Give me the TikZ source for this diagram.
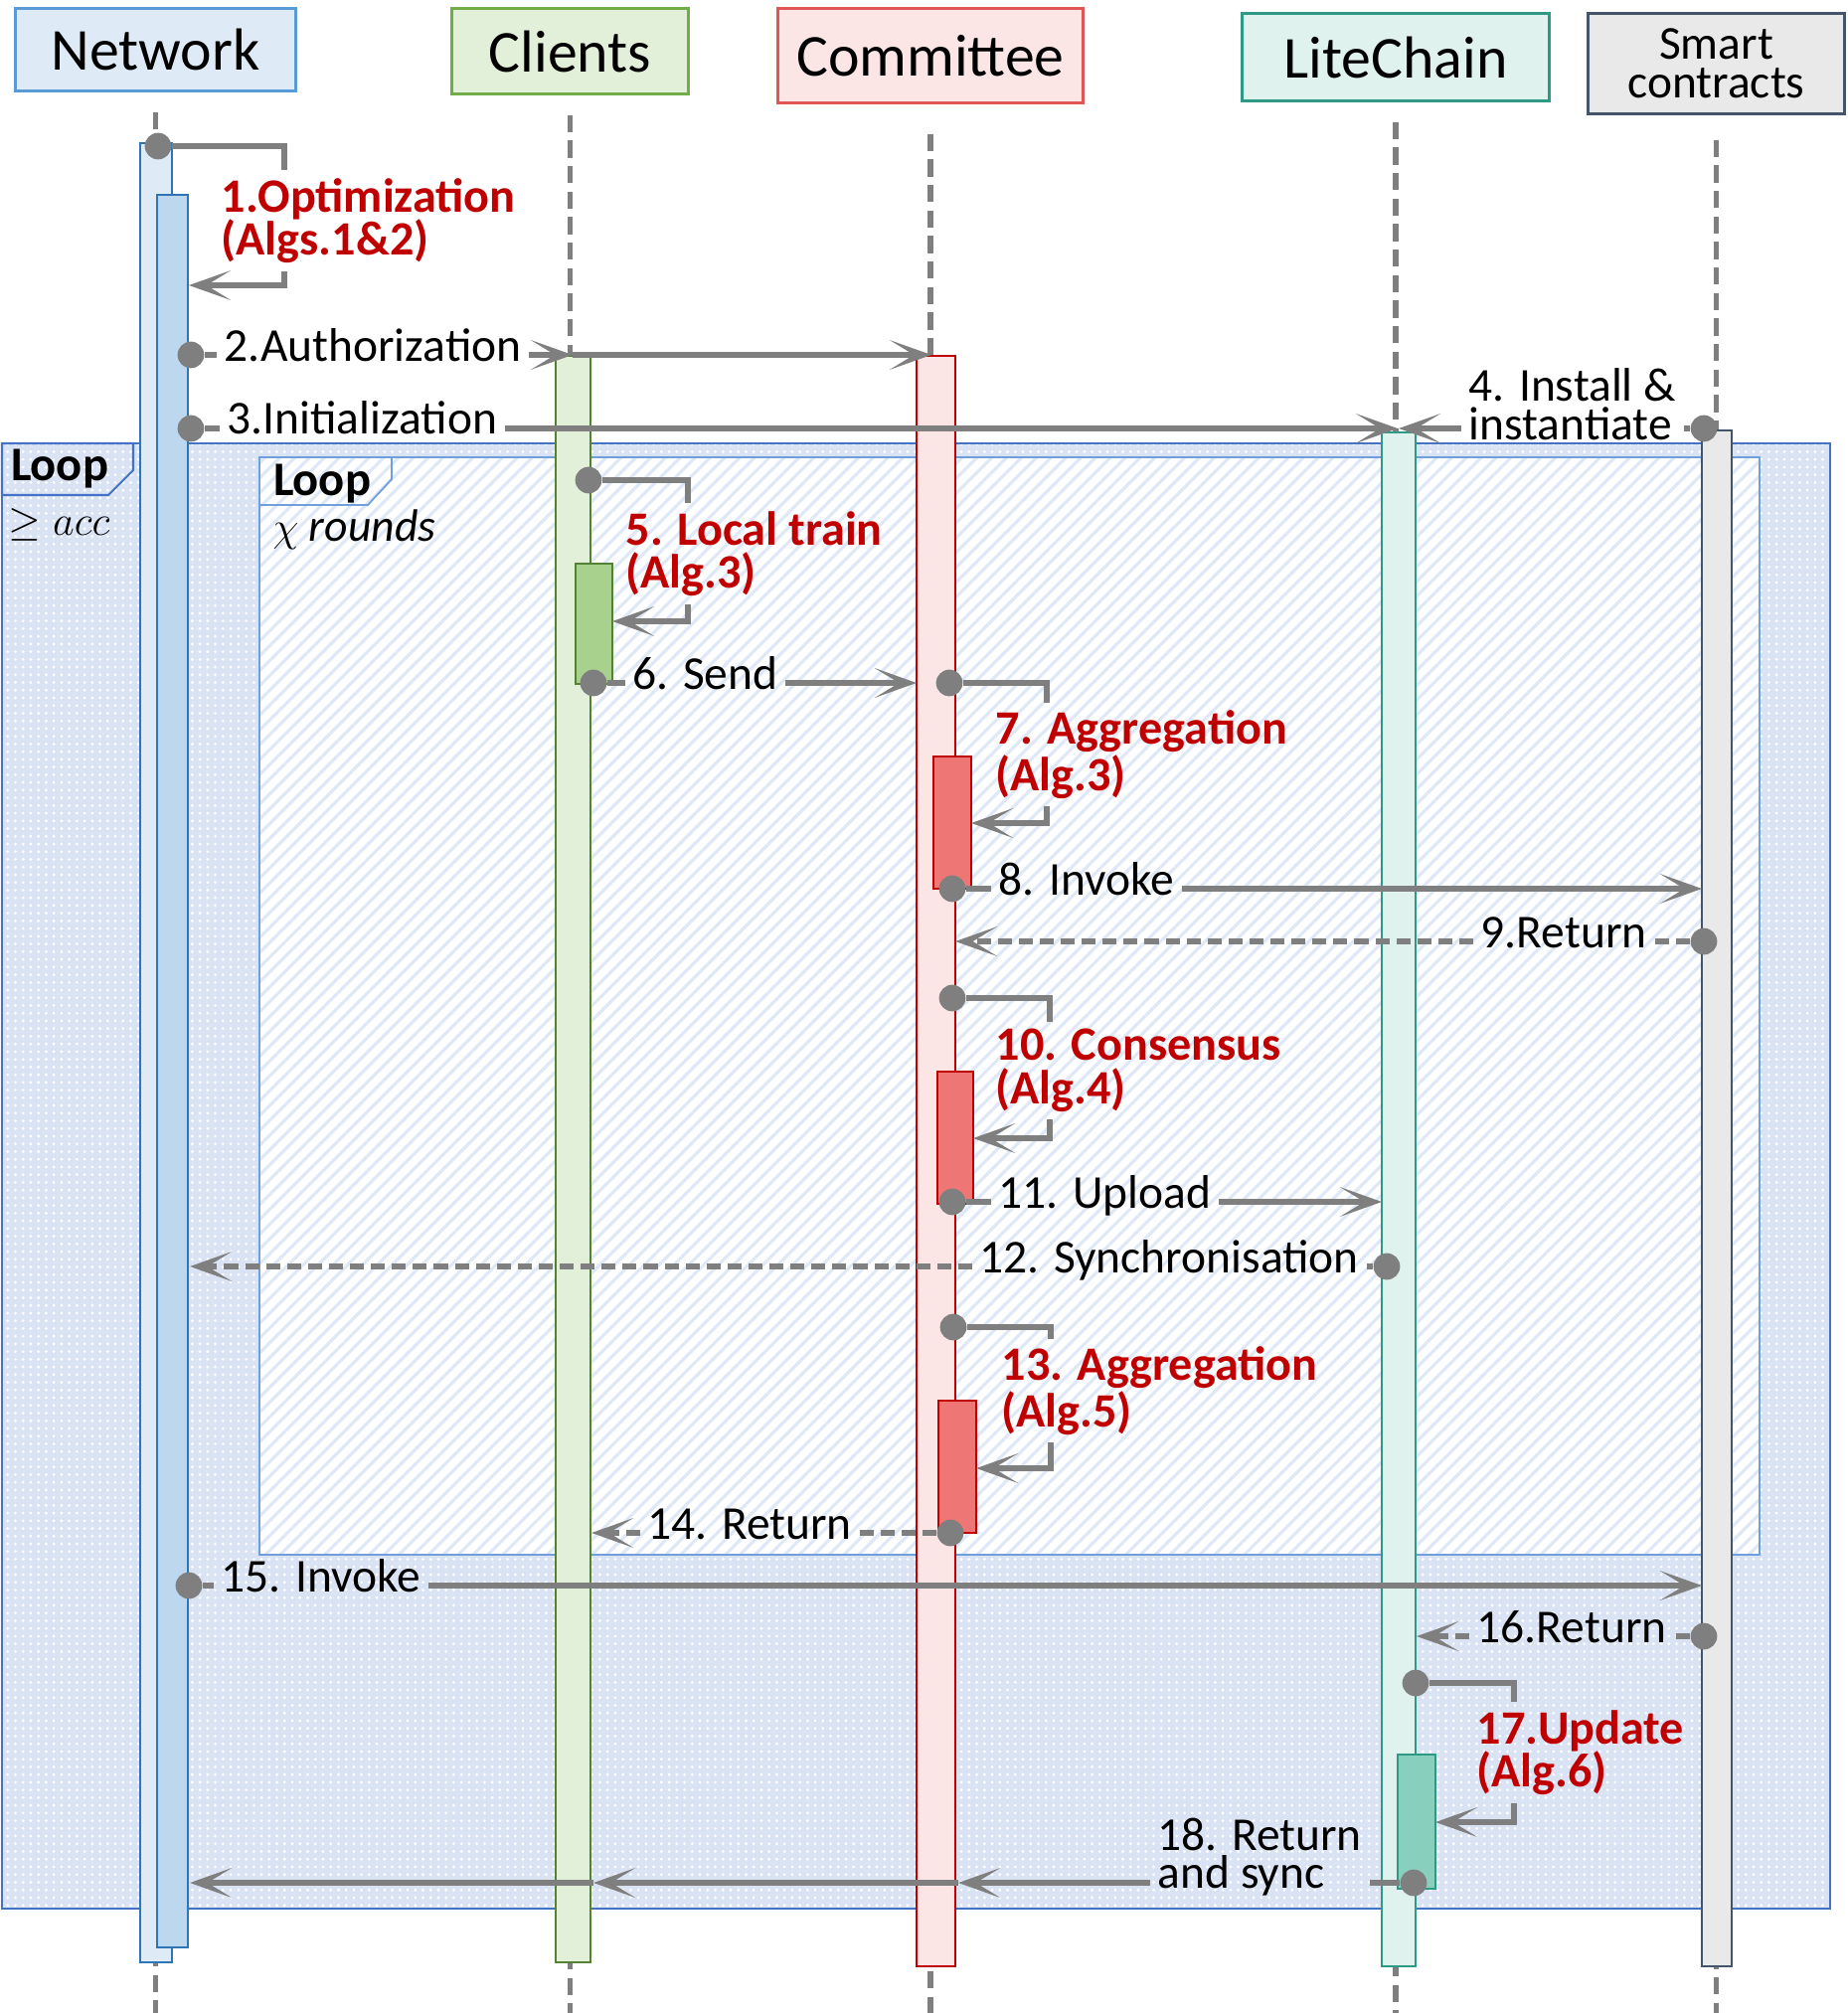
\documentclass[tikz,border=0pt]{standalone}
\usepackage{fontspec}
\setmainfont{Carlito}
\usetikzlibrary{arrows.meta}
\usetikzlibrary{patterns.meta}

\definecolor{netfill}{HTML}{DEEBF7}
\definecolor{netdraw}{HTML}{5B9BD5}
\definecolor{netbar}{HTML}{BDD7EE}
\definecolor{netbardraw}{HTML}{2E75B6}
\definecolor{clifill}{HTML}{E2F0D9}
\definecolor{clidraw}{HTML}{70AD47}
\definecolor{clibardraw}{HTML}{548235}
\definecolor{cliact}{HTML}{A9D18E}
\definecolor{comfill}{HTML}{FBE5E5}
\definecolor{comdraw}{HTML}{E05555}
\definecolor{combardraw}{HTML}{C00000}
\definecolor{comact}{HTML}{EE7674}
\definecolor{litfill}{HTML}{DFF2EE}
\definecolor{litdraw}{HTML}{2E9A85}
\definecolor{litact}{HTML}{88CFBE}
\definecolor{smfill}{HTML}{E9E9E9}
\definecolor{smdraw}{HTML}{44546A}
\definecolor{msggray}{HTML}{7F7F7F}
\definecolor{algred}{HTML}{C00000}
\definecolor{loopbg}{HTML}{DAE3F4}
\definecolor{loopdraw}{HTML}{4472C4}
\definecolor{innerdraw}{HTML}{6FA0DC}
\definecolor{hatch}{HTML}{DFE8F6}

\tikzset{
  hdrbox/.style={draw, line width=0.85pt, inner sep=0pt, align=center,
    font=\fontsize{17}{17}\selectfont},
  lifeline/.style={draw=msggray, line width=1.5pt, dash pattern=on 5pt off 2.3pt},
  actbar/.style={line width=0.75pt},
  msgline/.style={draw=msggray, line width=1.6pt},
  retline/.style={msgline, dash pattern=on 4pt off 2pt},
  msgtip/.style={-{Stealth[length=12pt,width=8.5pt,inset=7pt]}},
  msgdot/.style={circle, fill=msggray, inner sep=0pt, minimum size=7.6pt},
  msgtxt/.style={anchor=base west, inner xsep=2pt, font=\fontsize{13.5}{13.5}\selectfont},
  alglbl/.style={anchor=west, align=left, inner sep=2pt, text=algred,
    font=\bfseries\fontsize{13.7}{12.4}\selectfont},
  outerloop/.style={preaction={fill=loopbg}, pattern={Dots[distance=2.2pt,radius=0.45pt]},
    pattern color=white, draw=loopdraw, line width=0.6pt},
  innerloop/.style={preaction={fill=white}, pattern={Lines[angle=45,distance=3pt,line width=0.9pt]},
    pattern color=hatch, draw=innerdraw, line width=0.5pt},
  loopname/.style={font=\bfseries\fontsize{13.8}{13.8}\selectfont, inner sep=0pt},
  loopcond/.style={anchor=west, font=\fontsize{13}{13}\selectfont, inner sep=0pt}
}

\begin{document}
\begin{tikzpicture}[x=0.01cm,y=-0.01cm]
    \useasboundingbox (0,0) rectangle (1858,2025);
    \coordinate (bot) at (0,2025);
    %% loops
    \draw[outerloop] (2,446) rectangle (1841,1920);
    \draw[outerloop] (2,446) -- (134,446) -- (134,473) -- (109,498) -- (2,498) -- cycle;
    \node[loopname] (outername) at (60,472) {Loop};
    \node[loopcond] (outercond) at (8,528) {$\geq acc$};
    \draw[innerloop] (261,460) rectangle (1770,1564);
    \draw[innerloop] (261,460) -- (394,460) -- (394,482) -- (370,508) -- (261,508) -- cycle;
    \node[loopname] (innername) at (324,487) {Loop};
    \node[loopcond] (innercond) at (274,533) {$\chi$ \textit{rounds}};
    %% headers and lifelines
    \node[hdrbox, draw=netdraw, fill=netfill, minimum width=2.81cm, minimum height=0.82cm] (network) at (156.5,50) {Network};
    \node[hdrbox, draw=clidraw, fill=clifill, minimum width=2.37cm, minimum height=0.85cm] (clients) at (573.5,51.5) {Clients};
    \node[hdrbox, draw=comdraw, fill=comfill, minimum width=3.06cm, minimum height=0.94cm] (committee) at (936,56) {Committee};
    \node[hdrbox, draw=litdraw, fill=litfill, minimum width=3.08cm, minimum height=0.87cm] (litechain) at (1404,57.5) {LiteChain};
    \node[hdrbox, draw=smdraw, fill=smfill, minimum width=2.57cm, minimum height=1.00cm,
      font=\fontsize{13.5}{11}\selectfont] (smart) at (1726.5,64) {Smart\\contracts};
    \draw[lifeline] ([yshift=-2mm]network.south) -- (network.south |- bot);
    \draw[lifeline] ([yshift=-2mm]clients.south) -- (clients.south |- bot);
    \draw[lifeline] ([yshift=-3mm]committee.south) -- (committee.south |- bot);
    \draw[lifeline] ([yshift=-2mm]litechain.south) -- (litechain.south |- bot);
    \draw[lifeline] ([yshift=-2.5mm]smart.south) -- (smart.south |- bot);
    %% activation bars
    \filldraw[actbar, fill=netfill, draw=netbardraw] (141,144) rectangle (173,1974);
    \filldraw[actbar, fill=netbar, draw=netbardraw] (158,196) rectangle (189,1959);
    \filldraw[actbar, fill=clifill, draw=clibardraw] (559,358) rectangle (594,1974);
    \filldraw[actbar, fill=cliact, draw=clibardraw] (579,567) rectangle (616,688);
    \filldraw[actbar, fill=comfill, draw=combardraw] (922,358) rectangle (961,1978);
    \filldraw[actbar, fill=comact, draw=combardraw] (939,761) rectangle (977,894);
    \filldraw[actbar, fill=comact, draw=combardraw] (943,1078) rectangle (979,1211);
    \filldraw[actbar, fill=comact, draw=combardraw] (944,1409) rectangle (982,1542);
    \filldraw[actbar, fill=litfill, draw=litdraw] (1390,435) rectangle (1424,1978);
    \filldraw[actbar, fill=litact, draw=litdraw] (1406,1765) rectangle (1444,1900);
    \filldraw[actbar, fill=smfill, draw=smdraw] (1712,433) rectangle (1742,1978);
    %% 1
    \node[msgdot] (d1) at (159,147) {};
    \node[alglbl] (l1) at (215,222) {1.Optimization\\(Algs.1\&2)};
    \coordinate (r1) at (286,0);
    \coordinate (t1) at (190,287);
    \draw[msgline] (d1) -| (r1 |- l1.north);
    \draw[msgline, msgtip] (r1 |- l1.south) |- (t1);
    %% 2
    \node[msgdot] (d2) at (192,357) {};
    \node[msgtxt] (l2) at (218,364) {2.Authorization};
    \coordinate (t2) at (576,357);
    \coordinate (t2b) at (937,357);
    \draw[msgline] (d2) -- (d2 -| l2.west);
    \draw[msgline, msgtip] (d2 -| l2.east) -- (t2);
    \draw[msgline, msgtip] (t2) -- (t2b);
    %% 3
    \node[msgdot] (d3) at (192,431) {};
    \node[msgtxt] (l3) at (221,437) {3.Initialization};
    \coordinate (t3) at (1406,431);
    \draw[msgline] (d3) -- (d3 -| l3.west);
    \draw[msgline, msgtip] (d3 -| l3.east) -- (t3);
    %% 4
    \node[msgdot] (d4) at (1714,431) {};
    \node[msgtxt, anchor=west, align=left, font=\fontsize{13.5}{11.2}\selectfont] (l4) at (1470,407) {4. Install \&\\instantiate};
    \coordinate (t4) at (1407,431);
    \draw[msgline] (d4) -- (d4 -| l4.east);
    \draw[msgline, msgtip] (d4 -| l4.west) -- (t4);
    %% 5
    \node[msgdot] (d5) at (592,483) {};
    \node[alglbl] (l5) at (622,557) {5. Local train\\(Alg.3)};
    \coordinate (r5) at (692,0);
    \coordinate (t5) at (616,625);
    \draw[msgline] (d5) -| (r5 |- l5.north);
    \draw[msgline, msgtip] (r5 |- l5.south) |- (t5);
    %% 6
    \node[msgdot] (d6) at (597,687) {};
    \node[msgtxt] (l6) at (629,693) {6. Send};
    \coordinate (t6) at (922,687);
    \draw[msgline] (d6) -- (d6 -| l6.west);
    \draw[msgline, msgtip] (d6 -| l6.east) -- (t6);
    %% 7
    \node[msgdot] (d7) at (955,687) {};
    \node[alglbl] (l7) at (994,759) {7. Aggregation\\(Alg.3)};
    \coordinate (r7) at (1053,0);
    \coordinate (t7) at (977,828);
    \draw[msgline] (d7) -| (r7 |- l7.north);
    \draw[msgline, msgtip] (r7 |- l7.south) |- (t7);
    %% 8
    \node[msgdot] (d8) at (958,894) {};
    \node[msgtxt] (l8) at (997,900) {8. Invoke};
    \coordinate (t8) at (1712,894);
    \draw[msgline] (d8) -- (d8 -| l8.west);
    \draw[msgline, msgtip] (d8 -| l8.east) -- (t8);
    %% 9
    \node[msgdot] (d9) at (1714,947) {};
    \node[msgtxt] (l9) at (1482,953) {9.Return};
    \coordinate (t9) at (961,947);
    \draw[retline] (d9) -- (d9 -| l9.east);
    \draw[retline, msgtip] (d9 -| l9.west) -- (t9);
    %% 10
    \node[msgdot] (d10) at (958,1004) {};
    \node[alglbl] (l10) at (994,1077) {10. Consensus\\(Alg.4)};
    \coordinate (r10) at (1056,0);
    \coordinate (t10) at (979,1145);
    \draw[msgline] (d10) -| (r10 |- l10.north);
    \draw[msgline, msgtip] (r10 |- l10.south) |- (t10);
    %% 11
    \node[msgdot] (d11) at (958,1209) {};
    \node[msgtxt] (l11) at (997,1215) {11. Upload};
    \coordinate (t11) at (1390,1209);
    \draw[msgline] (d11) -- (d11 -| l11.west);
    \draw[msgline, msgtip] (d11 -| l11.east) -- (t11);
    %% 12
    \node[msgdot] (d12) at (1395,1274) {};
    \node[msgtxt] (l12) at (978,1280) {12. Synchronisation};
    \coordinate (t12) at (191,1274);
    \draw[retline] (d12) -- (d12 -| l12.east);
    \draw[retline, msgtip] (d12 -| l12.west) -- (t12);
    %% 13
    \node[msgdot] (d13) at (959,1335) {};
    \node[alglbl] (l13) at (1000,1399) {13. Aggregation\\(Alg.5)};
    \coordinate (r13) at (1057,0);
    \coordinate (t13) at (982,1477);
    \draw[msgline] (d13) -| (r13 |- l13.north);
    \draw[msgline, msgtip] (r13 |- l13.south) |- (t13);
    %% 14
    \node[msgdot] (d14) at (956,1542) {};
    \node[msgtxt] (l14) at (644,1548) {14. Return};
    \coordinate (t14) at (595,1542);
    \draw[retline] (d14) -- (d14 -| l14.east);
    \draw[retline, msgtip] (d14 -| l14.west) -- (t14);
    %% 15
    \node[msgdot] (d15) at (190,1595) {};
    \node[msgtxt] (l15) at (215,1601) {15. Invoke};
    \coordinate (t15) at (1712,1595);
    \draw[msgline] (d15) -- (d15 -| l15.west);
    \draw[msgline, msgtip] (d15 -| l15.east) -- (t15);
    %% 16
    \node[msgdot] (d16) at (1714,1646) {};
    \node[msgtxt] (l16) at (1478,1652) {16.Return};
    \coordinate (t16) at (1425,1646);
    \draw[retline] (d16) -- (d16 -| l16.east);
    \draw[retline, msgtip] (d16 -| l16.west) -- (t16);
    %% 17
    \node[msgdot] (d17) at (1424,1693) {};
    \node[alglbl] (l17) at (1478,1763) {17.Update\\(Alg.6)};
    \coordinate (r17) at (1523,0);
    \coordinate (t17) at (1444,1833);
    \draw[msgline] (d17) -| (r17 |- l17.north);
    \draw[msgline, msgtip] (r17 |- l17.south) |- (t17);
    %% 18
    \node[msgdot] (d18) at (1422,1894) {};
    \node[msgtxt, anchor=west, align=left, font=\fontsize{13.5}{10.8}\selectfont] (l18) at (1157,1868) {18. Return\\and sync};
    \coordinate (t18a) at (964,1894);
    \coordinate (t18b) at (597,1894);
    \coordinate (t18c) at (191,1894);
    \draw[msgline] (d18) -- (d18 -| l18.east);
    \draw[msgline, msgtip] (d18 -| l18.west) -- (t18a);
    \draw[msgline, msgtip] (t18a) -- (t18b);
    \draw[msgline, msgtip] (t18b) -- (t18c);
\end{tikzpicture}
\end{document}
